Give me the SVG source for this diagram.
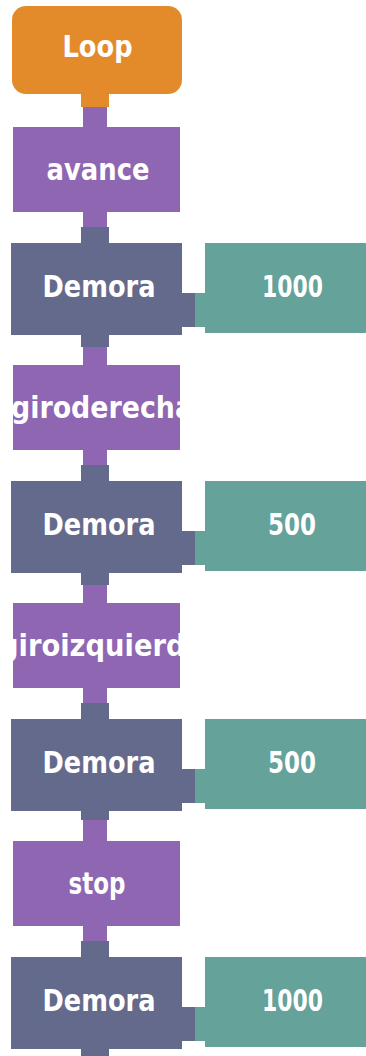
<svg xmlns="http://www.w3.org/2000/svg" width="366" height="1056" viewBox="0 0 366 1056">
<style>
.or{fill:#E38B2B}
.pu{fill:#8E66B2}
.sl{fill:#646A8B}
.te{fill:#65A29A}
.t{font-family:"DejaVu Sans","Liberation Sans",sans-serif;font-weight:bold;font-size:30px;fill:#ffffff;text-anchor:middle}
.s{text-anchor:start}
</style>
<defs>
<clipPath id="c1"><rect x="13" y="365" width="167" height="85"/></clipPath>
<clipPath id="c2"><rect x="13" y="603" width="167" height="85"/></clipPath>
</defs>
<rect width="366" height="1056" fill="#ffffff"/>
<g id="connectors">
<rect class="or" x="81" y="93" width="28" height="14"/>
<rect class="pu" x="83" y="107" width="24" height="21"/>
<rect class="pu" x="83" y="211" width="24" height="16"/>
<rect class="sl" x="81" y="227" width="28" height="16"/>
<rect class="sl" x="81" y="334" width="28" height="13"/>
<rect class="pu" x="83" y="347" width="24" height="19"/>
<rect class="pu" x="83" y="449" width="24" height="16"/>
<rect class="sl" x="81" y="465" width="28" height="16"/>
<rect class="sl" x="81" y="572" width="28" height="13"/>
<rect class="pu" x="83" y="585" width="24" height="19"/>
<rect class="pu" x="83" y="687" width="24" height="16"/>
<rect class="sl" x="81" y="703" width="28" height="16"/>
<rect class="sl" x="81" y="810" width="28" height="10"/>
<rect class="pu" x="83" y="820" width="24" height="22"/>
<rect class="pu" x="83" y="925" width="24" height="16"/>
<rect class="sl" x="81" y="941" width="28" height="16"/>
<rect class="sl" x="81" y="1048" width="28" height="8"/>
</g>
<g id="loop">
<rect class="or" x="12" y="6" width="170" height="88" rx="14"/>
<text class="t" x="97.5" y="57" font-size="28" textLength="70" lengthAdjust="spacingAndGlyphs">Loop</text>
</g>
<g id="avance">
<rect class="pu" x="13" y="127" width="167" height="85"/>
<text class="t" x="98" y="180" textLength="103" lengthAdjust="spacingAndGlyphs">avance</text>
</g>
<g id="demora1">
<path class="sl" d="M11 243H182V293H195V327H182V335H11Z"/>
<text class="t" x="99" y="297" textLength="113" lengthAdjust="spacingAndGlyphs">Demora</text>
</g>
<g id="valor1">
<path class="te" d="M205 243H380V333H205V327H195V293H205Z"/>
<text class="t" x="292.5" y="297" textLength="61" lengthAdjust="spacingAndGlyphs">1000</text>
</g>
<g id="giroderecha">
<rect class="pu" x="13" y="365" width="167" height="85"/>
<text class="t s" x="11" y="418" textLength="182" lengthAdjust="spacingAndGlyphs" clip-path="url(#c1)">giroderecha</text>
</g>
<g id="demora2">
<path class="sl" d="M11 481H182V531H195V565H182V573H11Z"/>
<text class="t" x="99" y="535" textLength="113" lengthAdjust="spacingAndGlyphs">Demora</text>
</g>
<g id="valor2">
<path class="te" d="M205 481H380V571H205V565H195V531H205Z"/>
<text class="t" x="292" y="535" textLength="48" lengthAdjust="spacingAndGlyphs">500</text>
</g>
<g id="giroizquierda">
<rect class="pu" x="13" y="603" width="167" height="85"/>
<text class="t s" x="-1" y="656" textLength="205" lengthAdjust="spacingAndGlyphs" clip-path="url(#c2)">giroizquierda</text>
</g>
<g id="demora3">
<path class="sl" d="M11 719H182V769H195V803H182V811H11Z"/>
<text class="t" x="99" y="773" textLength="113" lengthAdjust="spacingAndGlyphs">Demora</text>
</g>
<g id="valor3">
<path class="te" d="M205 719H380V809H205V803H195V769H205Z"/>
<text class="t" x="292" y="773" textLength="48" lengthAdjust="spacingAndGlyphs">500</text>
</g>
<g id="stop">
<rect class="pu" x="13" y="841" width="167" height="85"/>
<text class="t" x="97" y="894" textLength="57" lengthAdjust="spacingAndGlyphs">stop</text>
</g>
<g id="demora4">
<path class="sl" d="M11 957H182V1007H195V1041H182V1049H11Z"/>
<text class="t" x="99" y="1011" textLength="113" lengthAdjust="spacingAndGlyphs">Demora</text>
</g>
<g id="valor4">
<path class="te" d="M205 957H380V1047H205V1041H195V1007H205Z"/>
<text class="t" x="292.5" y="1011" textLength="61" lengthAdjust="spacingAndGlyphs">1000</text>
</g>
</svg>
